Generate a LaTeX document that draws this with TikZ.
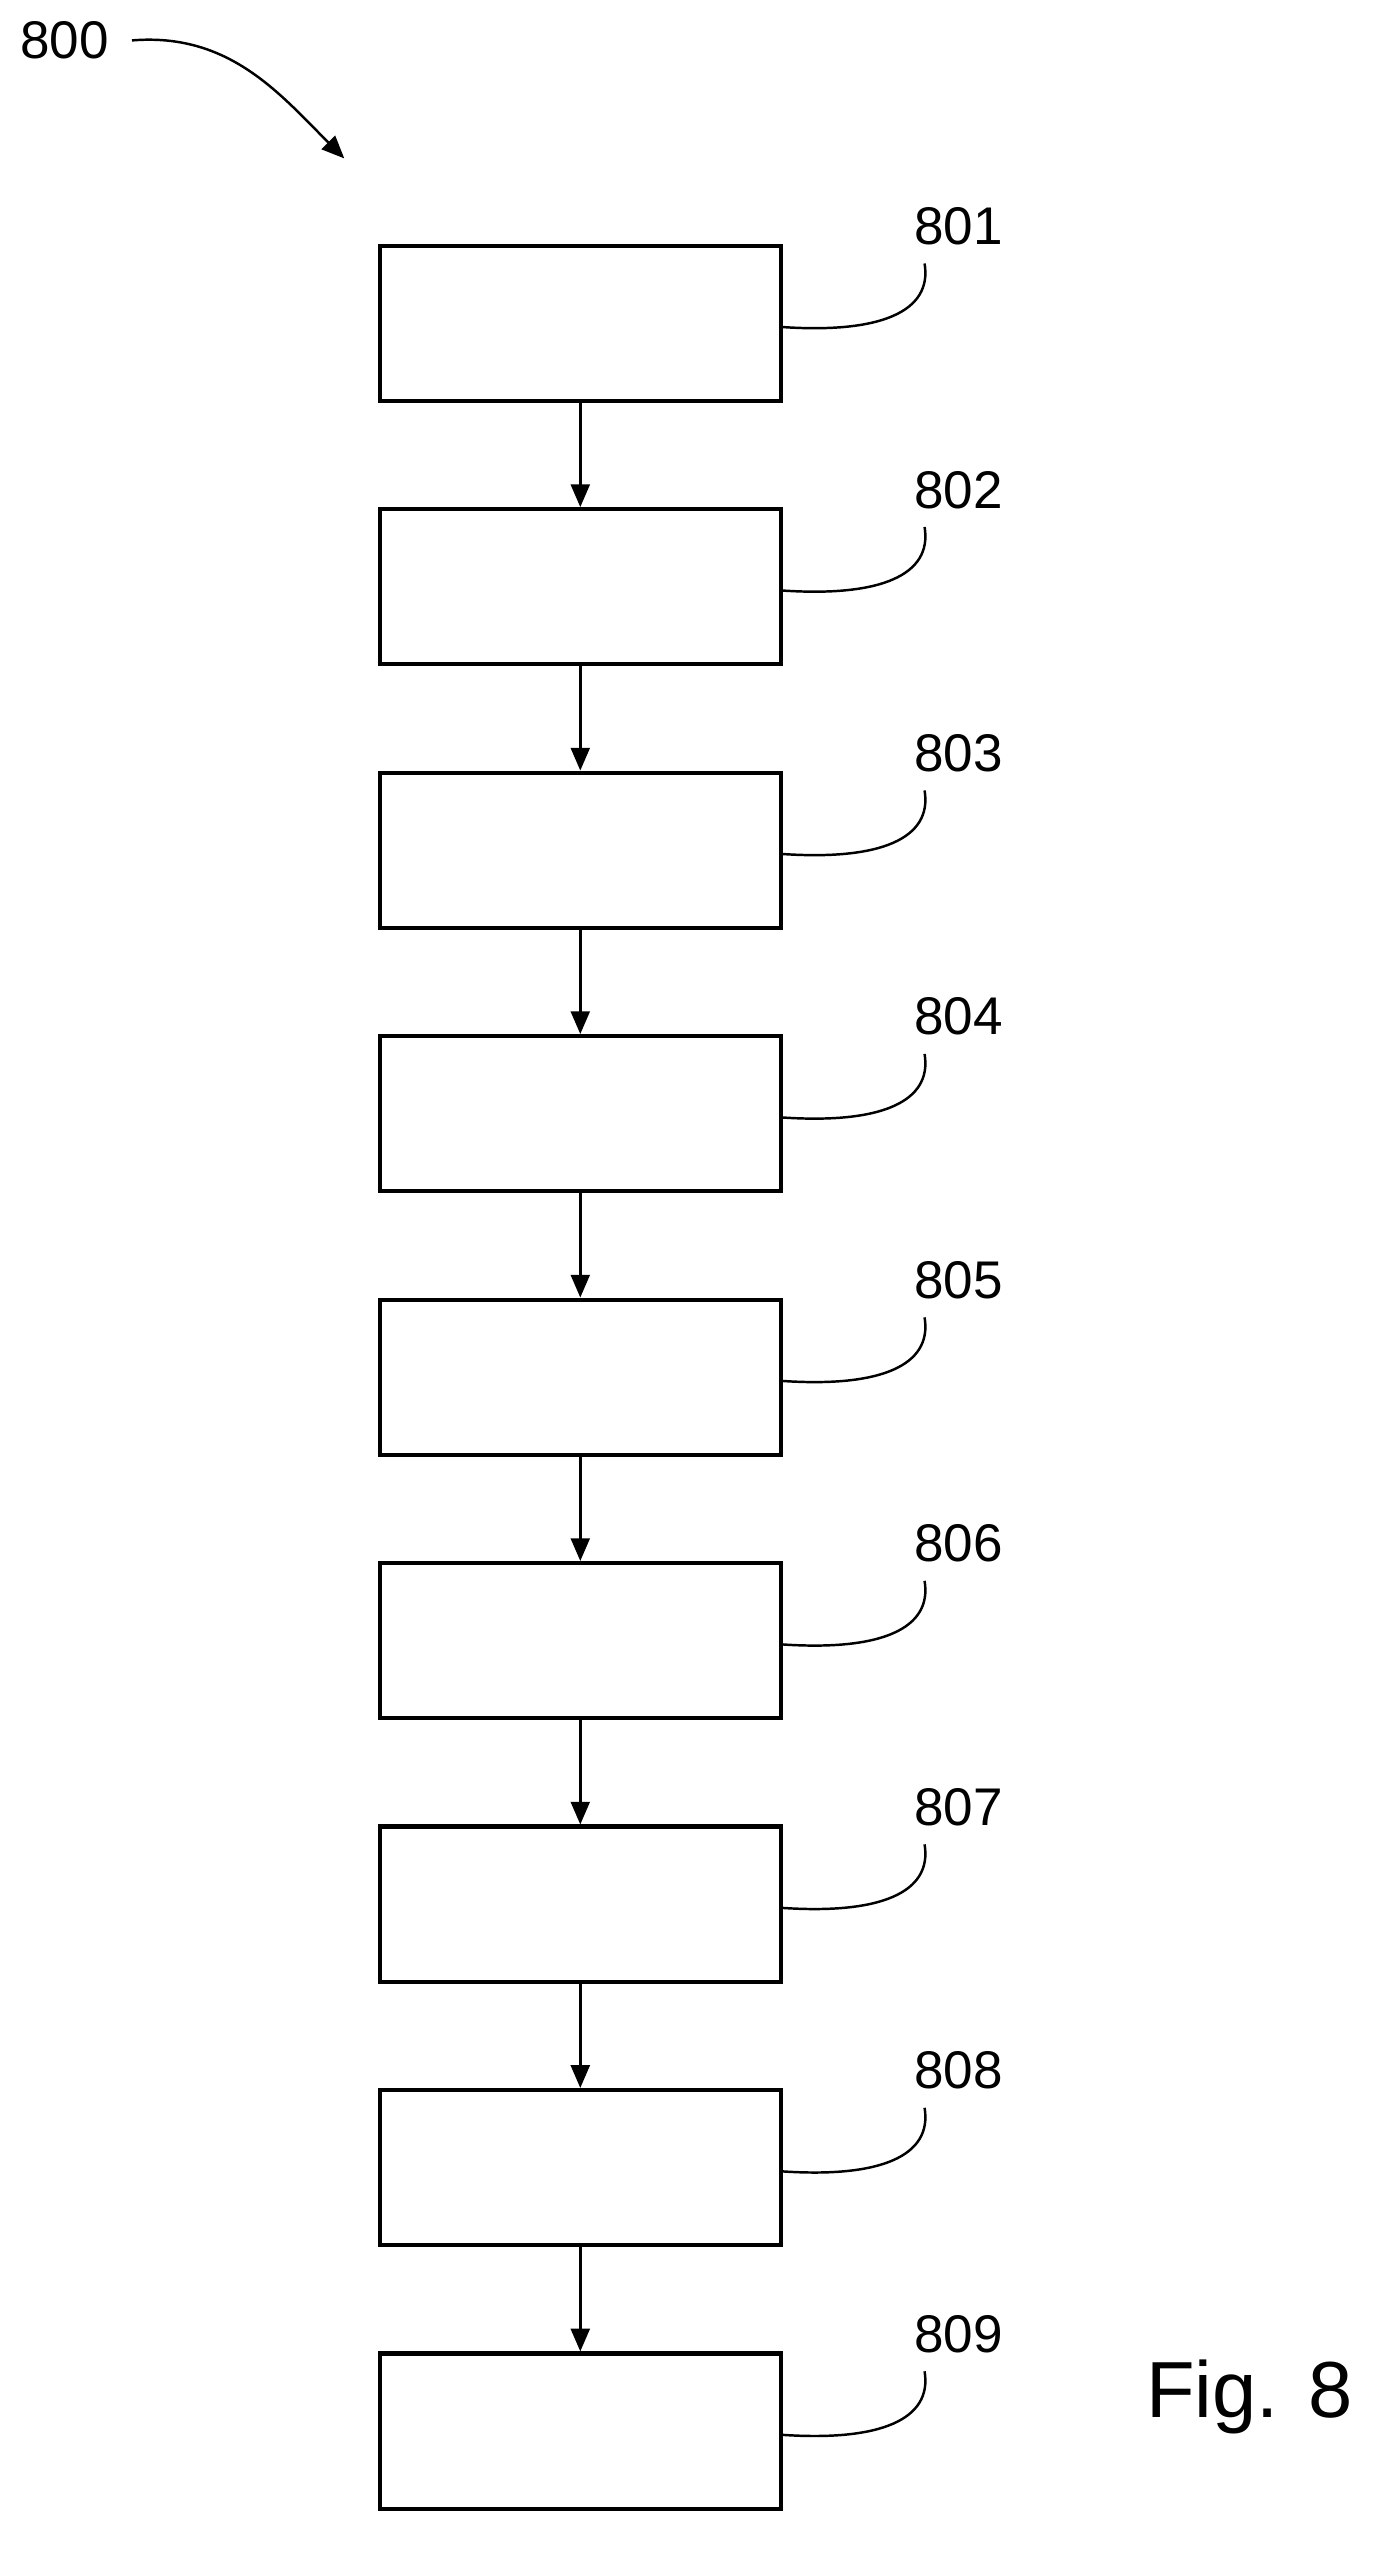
\documentclass[tikz,border=0pt]{standalone}
\usepackage{fontspec}
\setmainfont{Liberation Sans}
\usetikzlibrary{arrows.meta}
\tikzset{
  box/.style={draw, line width=2.2pt, minimum width=7.44cm, minimum height=2.88cm, inner sep=0pt},
  num/.style={font=\fontsize{28}{32}\selectfont, inner sep=0pt},
  flow/.style={line width=1.3pt, -{Triangle[length=12pt,width=10pt]}},
  lead/.style={line width=1.3pt}
}
\begin{document}
\begin{tikzpicture}[x=0.03cm, y=-0.03cm]
\useasboundingbox (0,0) rectangle (850,1585);
% Boxes and reference numerals
\foreach \i in {1,...,9} {
  \pgfmathsetmacro{\yy}{200+163*(\i-1)}
  \node[box] (b\i) at (359,\yy) {};
  \node[num] (n\i) at (593,\yy-60) {80\i};
  \coordinate (e\i) at (572,\yy-37);
  \draw[lead] ([yshift=-2]b\i.east) .. controls +(60,4) and +(5,30) .. (e\i);
}
% Flow arrows
\foreach \i [evaluate=\i as \j using int(\i+1)] in {1,...,8}
  \draw[flow] (b\i.south) -- (b\j.north);
% Figure numeral
\node[num] (n0) at (40,25) {800};
\coordinate (a0) at (213,98);
\draw[lead, -{Triangle[length=12pt,width=10pt]}] ([xshift=12]n0.east) .. controls +(60,-5) and +(-40,-40) .. (a0);
\node[font=\fontsize{42}{48}\selectfont, inner sep=0pt] (fig) at (773,1483) {Fig. 8};
\end{tikzpicture}
\end{document}
